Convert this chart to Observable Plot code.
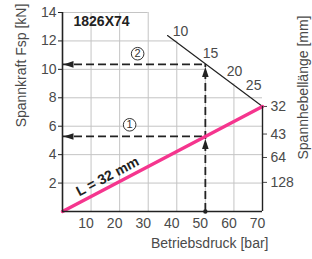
<!DOCTYPE html>
<html>
<head>
<meta charset="utf-8">
<script src="https://cdn.jsdelivr.net/npm/d3@7"></script>
<script src="https://cdn.jsdelivr.net/npm/@observablehq/plot@0.6"></script>
<style>
  html, body { margin: 0; padding: 0; background: white; }
</style>
</head>
<body>
<div id="chart"></div>
<script>
// ---- data ----
const title = "1826X74";
const pressureTicks = [10, 20, 30, 40, 50, 60, 70];
const forceTicks = [2, 4, 6, 8, 10, 12, 14];
const gridPressure = [10, 20, 30, 40, 50, 60];
const gridPressureTop = [14, 14, 14, 12, 10.35, 9];
const gridForceRight = [70, 70, 70, 70, 50, 40, 30];

const lengthTickLabels = ["32", "43", "64", "128"];
const lengthTickForce = [7.39, 5.45, 3.8, 2.05];

const curvePressure = [0, 70];      // L = 32 mm line
const curveForce = [0, 7.39];
const curveLabel = "L = 32 mm";
const curveLabelPressure = 15.75;
const curveLabelForce = 2.46;

const limitPressure = [36.75, 70];  // limit line
const limitForce = [12.38, 7.39];
const limitLabels = ["10", "15", "20", "25"];
const limitLabelPressure = [41.3, 51.8, 60.2, 66.9];
const limitLabelForce = [12.65, 11.12, 9.85, 8.87];

const examplePressure = 50;
const exampleForce1 = 5.28;
const exampleForce2 = 10.35;
const stepLabels = ["1", "2"];
const stepPressure = [23.5, 26.3];
const stepForce = [6.1, 11.1];

// ---- tables built from the arrays ----
const curve = curvePressure.map((p, i) => ({p, f: curveForce[i]}));
const limit = limitPressure.map((p, i) => ({p, f: limitForce[i]}));
const limitText = limitLabels.map((t, i) => ({t, p: limitLabelPressure[i], f: limitLabelForce[i]}));
const steps = stepLabels.map((t, i) => ({t, p: stepPressure[i], f: stepForce[i]}));
const lengthMap = new Map(lengthTickForce.map((f, i) => [f, lengthTickLabels[i]]));

const arrowUp = {draw(c) { c.moveTo(0, 0); c.lineTo(-3.3, 10); c.lineTo(3.3, 10); c.closePath(); }};
const arrowLeft = {draw(c) { c.moveTo(0, 0); c.lineTo(10, -3.3); c.lineTo(10, 3.3); c.closePath(); }};

const ink = "#222";
const textColor = "#4a4a4a";
const gridColor = "#c4c4c4";
const pink = "#f5358e";
const dash = "8,4";

const chart = Plot.plot({
  width: 312,
  height: 259,
  marginLeft: 62,
  marginRight: 50,
  marginTop: 12,
  marginBottom: 48,
  x: {domain: [0, 70], axis: null},
  y: {domain: [0, 14]},
  style: {fontFamily: "'Liberation Sans', Arial, sans-serif", fontSize: "14px", color: textColor, background: "white"},
  marks: [
    // grid
    Plot.ruleX(gridPressure, {x: d => d, y1: 0, y2: (d, i) => gridPressureTop[i], stroke: gridColor, strokeWidth: 1}),
    Plot.ruleY(forceTicks, {y: d => d, x1: 0, x2: (d, i) => gridForceRight[i], stroke: gridColor, strokeWidth: 1}),
    // axes
    Plot.axisY(forceTicks, {anchor: "left", tickSize: 4, tickPadding: 2, label: null, fontSize: 14, stroke: ink}),
    Plot.text(pressureTicks, {x: d => d, text: d => String(d), frameAnchor: "bottom", lineAnchor: "middle", dy: 12.5, dx: -5, fontSize: 14, fill: textColor}),
    Plot.axisY(lengthTickForce, {anchor: "right", tickSize: 4, tickPadding: 4, label: null, fontSize: 14, tickFormat: d => lengthMap.get(d)}),
    // dashed reading lines
    Plot.ruleX([examplePressure], {x: d => d, y1: 0, y2: exampleForce2, stroke: ink, strokeWidth: 1.8, strokeDasharray: dash}),
    Plot.ruleY([exampleForce1, exampleForce2], {y: d => d, x1: 0, x2: examplePressure, stroke: ink, strokeWidth: 1.8, strokeDasharray: dash}),
    // curve & limit line
    Plot.line(limit, {x: "p", y: "f", stroke: ink, strokeWidth: 1.2}),
    Plot.line(curve, {x: "p", y: "f", stroke: pink, strokeWidth: 3.4}),
    // axis lines
    Plot.ruleX([0], {x: d => d, y1: 0, y2: 14, stroke: ink, strokeWidth: 1.6}),
    Plot.ruleY([0], {y: d => d, x1: 0, x2: 70, stroke: ink, strokeWidth: 1.6}),
    Plot.ruleX([70], {x: d => d, y1: 0, y2: curveForce[1], stroke: ink, strokeWidth: 1.4}),
    // arrowheads
    Plot.dot([exampleForce1, exampleForce2], {x: examplePressure, y: d => d, dy: 2.5, symbol: arrowUp, fill: ink, stroke: null, r: 4}),
    Plot.dot([exampleForce1, exampleForce2], {x: 0, y: d => d, dx: 1, symbol: arrowLeft, fill: ink, stroke: null, r: 4}),
    Plot.dot([examplePressure], {x: d => d, y: 0, r: 2.2, fill: ink, stroke: null}),
    // circled step numbers
    Plot.dot(steps, {x: "p", y: "f", r: 6.3, stroke: "#333", strokeWidth: 1, fill: "white"}),
    Plot.text(steps, {x: "p", y: "f", text: "t", fontSize: 11, fill: "#333"}),
    // labels
    Plot.text(limitText, {x: "p", y: "f", text: "t", fontSize: 14, fill: textColor}),
    Plot.text([curveLabel], {x: curveLabelPressure, y: curveLabelForce, text: d => d, rotate: -27.7, fontWeight: "bold", fontSize: 14, fill: ink}),
    Plot.text([title], {frameAnchor: "top-left", text: d => d, dx: 11, dy: 9, textAnchor: "start", lineAnchor: "middle", fontWeight: "bold", fontSize: 14, fill: ink}),
    Plot.text(["Spannkraft Fsp [kN]"], {frameAnchor: "top-left", text: d => d, dx: -41, dy: 53, rotate: -90, textAnchor: "middle", lineAnchor: "middle", fontSize: 14, fill: textColor}),
    Plot.text(["Spannhebellänge [mm]"], {frameAnchor: "top-right", text: d => d, dx: 41, dy: 75, rotate: -90, textAnchor: "middle", lineAnchor: "middle", fontSize: 14, fill: textColor}),
    Plot.text(["Betriebsdruck [bar]"], {frameAnchor: "bottom-right", text: d => d, dx: 6, dy: 32, textAnchor: "end", lineAnchor: "middle", fontSize: 14, fill: textColor})
  ]
});
document.getElementById("chart").appendChild(chart);
</script>
</body>
</html>
